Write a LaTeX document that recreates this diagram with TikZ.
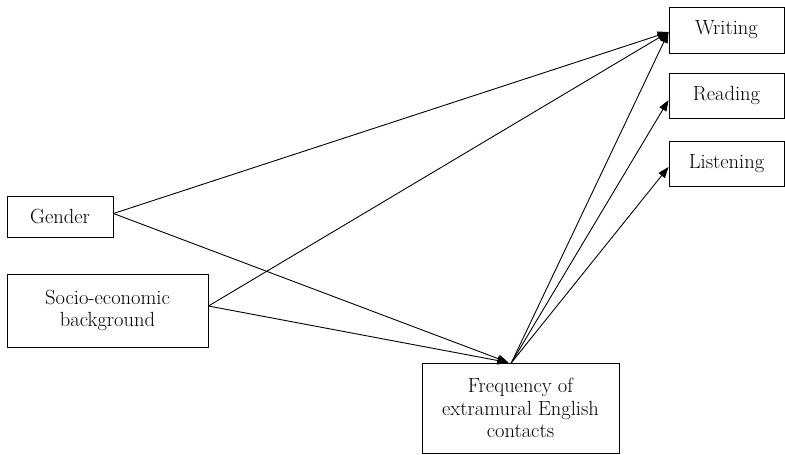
\documentclass[tikz,border=0pt]{standalone}
\usetikzlibrary{arrows.meta}
\begin{document}
\begin{tikzpicture}[x=1pt,y=-1pt,
  box/.style={draw,line width=0.9pt,rectangle,inner sep=0pt,align=center,
    font=\fontsize{20.5}{22.5}\selectfont},
  link/.style={line width=0.9pt,-{Triangle[length=11pt,width=8pt]}}]
\useasboundingbox (0,0) rectangle (785,455);
\node[box,minimum width=115,minimum height=46] (wri) at (726.5,30) {Writing};
\node[box,minimum width=115,minimum height=45] (rea) at (726.5,95.5) {Reading};
\node[box,minimum width=115,minimum height=45] (lis) at (726.5,163.5) {Listening};
\node[box,minimum width=106,minimum height=41] (gen) at (60,216.5) {Gender};
\node[box,minimum width=201,minimum height=73] (soc) at (107.5,310.5) {Socio-economic\\background};
\node[box,minimum width=197,minimum height=90] (fre) at (520.5,408) {Frequency of\\extramural English\\contacts};
\coordinate (gs) at ([yshift=3]gen.east);
\coordinate (ss) at ([yshift=4.5]soc.east);
\coordinate (ft) at ([xshift=-12]fre.north);
\coordinate (fs) at ([xshift=-9]fre.north);
\coordinate (wt) at ([yshift=-2]wri.west);
\coordinate (rt) at ([yshift=-4.5]rea.west);
\coordinate (lt) at ([yshift=-3.5]lis.west);
\draw[link] (gs) -- (wt);
\draw[link] (gs) -- (ft);
\draw[link] (ss) -- (wt);
\draw[link] (ss) -- (ft);
\draw[link] (fs) -- (wt);
\draw[link] (fs) -- (rt);
\draw[link] (fs) -- (lt);
\end{tikzpicture}
\end{document}
